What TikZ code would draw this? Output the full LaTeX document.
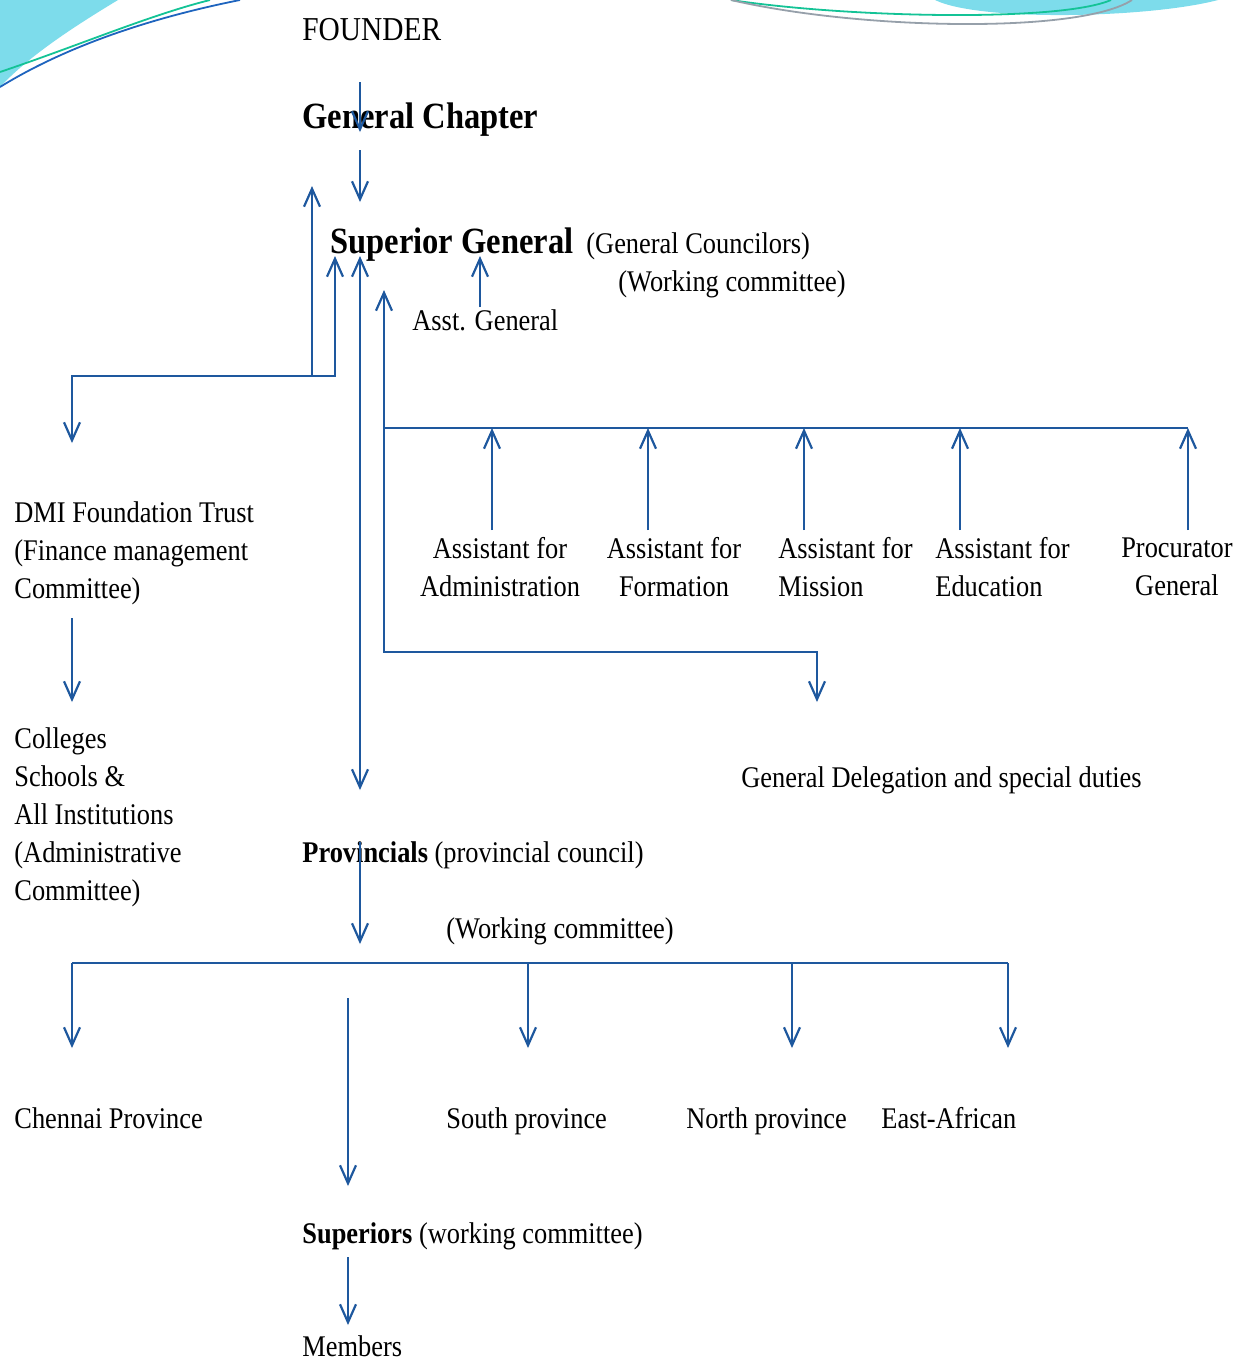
\documentclass[tikz,border=0pt]{standalone}
\usepackage{fontspec}
\setmainfont{Liberation Serif}[FakeStretch=0.88]
\usetikzlibrary{arrows.meta}
\definecolor{linkblue}{RGB}{30,88,158}
\definecolor{decocyan}{RGB}{125,220,235}
\definecolor{decogreen}{RGB}{20,195,150}
\definecolor{decogray}{RGB}{150,160,170}
\definecolor{decoblue}{RGB}{30,100,190}
\tikzset{
  link/.style={draw=linkblue, line width=1.1pt},
  arr/.style={link, -{Straight Barb[length=9pt,width=8pt]}},
  dbl/.style={link, {Straight Barb[length=9pt,width=8pt]}-{Straight Barb[length=9pt,width=8pt]}},
  txt/.style={inner sep=0pt, anchor=base west},
  headtxt/.style={txt, font=\fontsize{18.5pt}{22pt}\selectfont\bfseries},
  block/.style={inner sep=0pt, anchor=north west, align=left},
}
\begin{document}
\begin{tikzpicture}[x=0.5pt, y=-0.5pt, font=\fontsize{15pt}{19pt}\selectfont]
    \useasboundingbox (0,0) rectangle (1242,1362);
    % corner decoration
    \fill [decocyan] (0,0) -- (118,0) .. controls (75,26) and (30,55) .. (0,87) -- cycle;
    \draw [decogreen, line width=0.9pt] (0,72) .. controls (80,45) and (150,15) .. (210,0);
    \draw [decoblue, line width=0.9pt] (0,87) .. controls (60,50) and (140,20) .. (240,0);
    \fill [decocyan] (935,0) .. controls (980,22) and (1150,18) .. (1218,0) -- cycle;
    \draw [decogreen, line width=0.9pt] (731,0) .. controls (850,18) and (1060,22) .. (1111,0);
    \draw [decogray, line width=0.9pt] (731,0) .. controls (860,30) and (1080,34) .. (1132,0);
    % set coordinates
    \coordinate (F1) at (360,82);
    \coordinate (F2) at (360,132);
    \coordinate (G1) at (360,150);
    \coordinate (G2) at (360,202);
    \coordinate (L1) at (312,376);
    \coordinate (L1T) at (312,186);
    \coordinate (L2T) at (335,256);
    \coordinate (L2) at (335,376);
    \coordinate (LC) at (72,376);
    \coordinate (LD) at (72,443);
    \coordinate (DT1) at (72,618);
    \coordinate (DT2) at (72,702);
    \coordinate (MT) at (360,256);
    \coordinate (MB) at (360,790);
    \coordinate (RT) at (384,290);
    \coordinate (RB) at (384,652);
    \coordinate (RC) at (817,652);
    \coordinate (RD) at (817,702);
    \coordinate (BarL) at (384,428);
    \coordinate (BarR) at (1188,428);
    \coordinate (AG1) at (480,307);
    \coordinate (AG2) at (480,256);
    \coordinate (P1) at (360,842);
    \coordinate (P2) at (360,944);
    \coordinate (PL) at (72,963);
    \coordinate (PR) at (1008,963);
    \coordinate (S1) at (348,998);
    \coordinate (S2) at (348,1186);
    \coordinate (M1) at (348,1257);
    \coordinate (M2) at (348,1325);
    % add labels
    \node [txt, font=\fontsize{16.7pt}{20pt}\selectfont] (founder) at (302,40) {FOUNDER};
    \node [headtxt] (chapter) at (302,128) {General Chapter};
    \node [headtxt] (supgen) at (330,253) {Superior General};
    \node [txt] (council) at (586,253) {(General Councilors)};
    \node [txt] (workgen) at (618,291) {(Working committee)};
    \node [txt] (asstgen) at (412,330) {Asst. General};
    \node [block] (dmi) at (14,501) {DMI Foundation Trust\\(Finance management\\Committee)};
    \node [block, anchor=north, align=center] (adm) at (500,537) {Assistant for\\Administration};
    \node [block, anchor=north, align=center] (frm) at (674,537) {Assistant for\\Formation};
    \node [block] (mis) at (778,537) {Assistant for\\Mission};
    \node [block] (edu) at (935,537) {Assistant for\\Education};
    \node [block, anchor=north, align=center] (prc) at (1177,537) {Procurator\\General};
    \node [block] (coll) at (14,727) {Colleges\\Schools \&\\All Institutions\\(Administrative\\Committee)};
    \node [txt] (deleg) at (741,787) {General Delegation and special duties};
    \node [txt] (prov) at (302,862) {\textbf{Provincials} (provincial council)};
    \node [txt] (workprov) at (446,938) {(Working committee)};
    \node [txt] (chennai) at (14,1128) {Chennai Province};
    \node [txt] (south) at (446,1128) {South province};
    \node [txt] (north) at (686,1128) {North province};
    \node [txt] (east) at (881,1128) {East-African};
    \node [txt] (superiors) at (302,1243) {\textbf{Superiors} (working committee)};
    \node [txt] (members) at (302,1356) {Members};
    % draw figure
    \draw [arr] (F1) -- (F2);
    \draw [arr] (G1) -- (G2);
    \draw [arr] (L1) -- (L1T);
    \draw [dbl] (L2T) -- (L2) -- (LC) -- (LD);
    \draw [arr] (DT1) -- (DT2);
    \draw [dbl] (MT) -- (MB);
    \draw [dbl] (RT) -- (RB) -- (RC) -- (RD);
    \draw [link] (BarL) -- (BarR);
    \foreach \x in {492,648,804,960,1188}
      \draw [arr] (\x,530) -- (\x,428);
    \draw [arr] (AG1) -- (AG2);
    \draw [arr] (P1) -- (P2);
    \draw [link] (PL) -- (PR);
    \foreach \x in {72,528,792,1008}
      \draw [arr] (\x,963) -- (\x,1048);
    \draw [arr] (S1) -- (S2);
    \draw [arr] (M1) -- (M2);
\end{tikzpicture}
\end{document}
